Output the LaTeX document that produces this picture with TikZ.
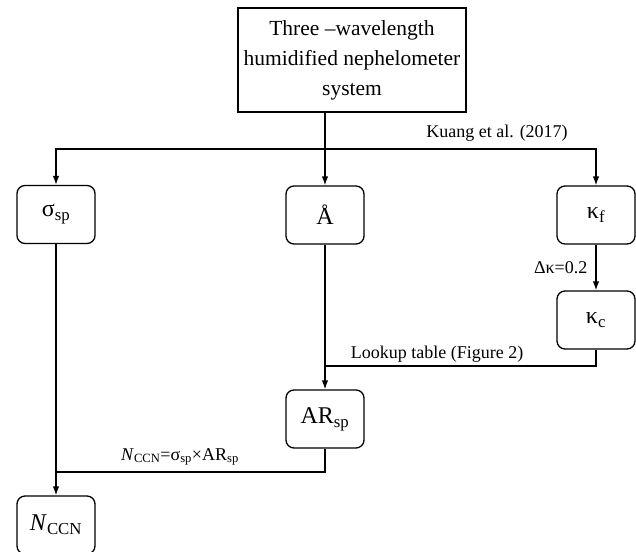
\documentclass[tikz,border=0pt]{standalone}
\usepackage{fontspec}
\setmainfont{Liberation Serif}
\usetikzlibrary{arrows.meta}
\begin{document}
\begin{tikzpicture}[x=1pt,y=-1pt,line width=1.3pt,
  box/.style={draw,rounded corners=8pt,minimum width=78pt,minimum height=58pt,inner sep=0pt,font=\fontsize{24}{28}\selectfont},
  lbl/.style={font=\fontsize{18}{22}\selectfont,inner sep=0pt},
  arr/.style={-{Latex[length=9pt,width=6.5pt]}}]
\useasboundingbox (0,0) rectangle (636,551);
\node[draw,minimum width=228pt,minimum height=104pt,align=center,font=\fontsize{21.5}{30}\selectfont,inner sep=0pt] (top) at (352,60) {Three –wavelength\\humidified nephelometer\\system};
\coordinate (j) at (325,149);
\node[box] (sig) at (56,214.5) {σ\textsubscript{sp}};
\node[box] (A) at (325,215) {Å};
\node[box] (kf) at (596,215) {κ\textsubscript{f}};
\node[box] (kc) at (596,320) {κ\textsubscript{c}};
\node[box] (AR) at (325,419) {AR\textsubscript{sp}};
\node[box] (N) at (56,525) {\textit{N}\textsubscript{CCN}};
\draw (top.south -| j) -- (j);
\draw[arr] (j) -| (sig.north);
\draw[arr] (j) -| (kf.north);
\draw[arr] (j) -- (A.north);
\node[lbl] (kuang) at (497,133) {Kuang et al. (2017)};
\draw[arr] (kf.south) -- node[lbl,left=8pt] (dk) {Δκ=0.2} (kc.north);
\coordinate (lk) at (596,366);
\draw (kc.south) -- (lk) -- (lk -| A.south);
\node[lbl] (look) at (437,354) {Lookup table (Figure 2)};
\draw[arr] (A.south) -- (AR.north);
\coordinate (nc) at (325,472);
\draw (AR.south) -- (nc) -- (nc -| sig.south);
\draw[arr] (sig.south) -- (N.north);
\node[lbl] (eq) at (180,457) {\textit{N}\textsubscript{CCN}=σ\textsubscript{sp}×AR\textsubscript{sp}};
\end{tikzpicture}
\end{document}
